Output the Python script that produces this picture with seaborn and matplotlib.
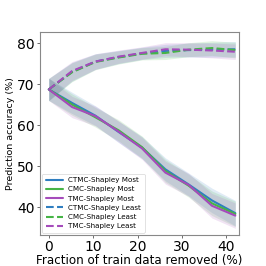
import numpy as np
import pandas as pd
import matplotlib
matplotlib.use("Agg")
import matplotlib.pyplot as plt
import seaborn as sns

# fraction of training data removed (%)
removed = [0, 5.25, 10.5, 15.75, 21, 26.25, 31.5, 36.75, 42]

# accuracy when removing most valuable points
ctmc_most = [68.7, 65.4, 62.3, 58.3, 54.5, 49.2, 45.5, 41.6, 38.5]
cmc_most = [68.7, 65.0, 61.9, 58.7, 54.6, 48.8, 45.2, 40.9, 38.3]
tmc_most = [68.7, 64.4, 62.2, 58.4, 54.3, 48.4, 45.4, 40.3, 37.9]

# accuracy when removing least valuable points
ctmc_least = [68.7, 73.0, 75.5, 76.6, 77.5, 78.1, 78.3, 78.4, 78.5]
cmc_least = [68.7, 72.9, 75.4, 76.5, 77.4, 77.6, 78.4, 78.8, 78.3]
tmc_least = [68.7, 73.2, 75.5, 76.7, 77.6, 78.5, 78.4, 78.2, 77.9]

# spread (std) across runs
sd_most = [2.7, 2.6, 2.4, 2.6, 2.7, 2.8, 2.8, 3.0, 3.1]
sd_least = [2.7, 2.3, 1.9, 1.6, 1.5, 1.6, 1.7, 1.8, 1.9]

labels = ["CTMC-Shapley", "CMC-Shapley", "TMC-Shapley"]
colors = ["#2f7ec0", "#46b446", "#a54bbb"]

sns.set_style("white")
plt.rcParams["font.family"] = ["DejaVu Sans"]
plt.rcParams["text.color"] = "black"
plt.rcParams["axes.labelcolor"] = "black"
plt.rcParams["xtick.color"] = "black"
plt.rcParams["ytick.color"] = "black"

fig = plt.figure(figsize=(2.66, 2.66), dpi=100)
ax = fig.add_axes([0.150, 0.117, 0.748, 0.764])

x = np.array(removed)
for name, col, ys in zip(labels, colors, [ctmc_most, cmc_most, tmc_most]):
    y = np.array(ys)
    ax.fill_between(x, y - np.array(sd_most), y + np.array(sd_most),
                    color=col, alpha=0.15, lw=0)
    sns.lineplot(x=x, y=y, ax=ax, color=col, lw=1.5, label=f"{name} Most")
for name, col, ys in zip(labels, colors, [ctmc_least, cmc_least, tmc_least]):
    y = np.array(ys)
    ax.fill_between(x, y - np.array(sd_least), y + np.array(sd_least),
                    color=col, alpha=0.15, lw=0)
    sns.lineplot(x=x, y=y, ax=ax, color=col, lw=1.5, linestyle="--",
                 label=f"{name} Least")

ax.set_xlim(-2.0, 42.8)
ax.set_ylim(33.2, 82.8)
ax.set_xticks([0, 10, 20, 30, 40])
ax.set_yticks([40, 50, 60, 70, 80])
ax.tick_params(labelsize=10, length=2.5, width=0.6, pad=1.5,
               bottom=True, left=True, color="#555555")
for sp in ax.spines.values():
    sp.set_color("#888888")
    sp.set_linewidth(0.8)
ax.set_xlabel("Fraction of train data removed (%)", fontsize=8.6, labelpad=0)
ax.set_ylabel("Prediction accuracy (%)", fontsize=6.8, labelpad=1)

leg = ax.legend(loc="lower left", fontsize=5.1, frameon=True,
                handlelength=2.4, borderpad=0.5, labelspacing=0.45,
                borderaxespad=0.3)
leg.get_frame().set_edgecolor("#cccccc")
leg.get_frame().set_linewidth(0.5)

fig.savefig("out.png", dpi=100)
